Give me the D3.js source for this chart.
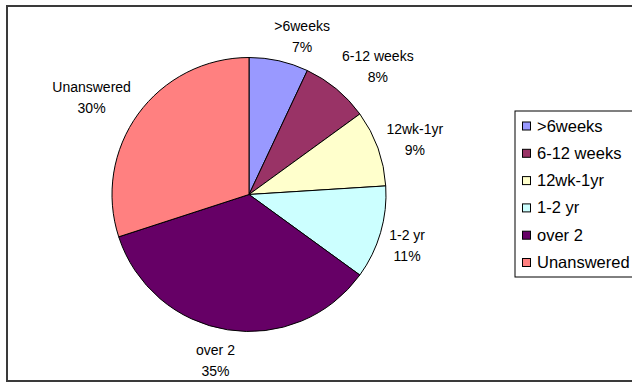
<!DOCTYPE html>
<html>
<head>
<meta charset="utf-8">
<style>
  body { margin: 0; background: #fff; }
  svg { display: block; font-family: "Liberation Sans", Arial, sans-serif; }
</style>
</head>
<body>
<div id="chart"></div>
<script src="https://d3js.org/d3.v7.min.js"></script>
<script>
  // data
  let categories = [">6weeks", "6-12 weeks", "12wk-1yr", "1-2 yr", "over 2", "Unanswered"];
  let shares = [7, 8, 9, 11, 35, 30];
  let colours = ["#9999ff", "#993366", "#ffffcc", "#ccffff", "#660066", "#ff8080"];

  let w = 632, h = 383;
  let cx = 249, cy = 194.5, r = 137;

  let svg = d3.select("#chart").append("svg")
      .attr("width", w)
      .attr("height", h);

  // outer chart frame (right side runs off the page)
  svg.append("rect")
      .attr("x", 7).attr("y", 6)
      .attr("width", 650).attr("height", 375)
      .attr("fill", "none")
      .attr("stroke", "#3a3a3a")
      .attr("stroke-width", 2);

  let data = categories.map(function(c, i) { return { name: c, value: shares[i] }; });
  let total = d3.sum(shares);

  let pie = d3.pie().sort(null).value(function(d) { return d.value; });
  let arc = d3.arc().innerRadius(0).outerRadius(r);
  let colour = d3.scaleOrdinal().domain(categories).range(colours);

  let slices = pie(data);

  let plot = svg.append("g").attr("transform", "translate(" + cx + "," + cy + ")");

  plot.selectAll("path")
      .data(slices)
      .enter().append("path")
        .attr("d", arc)
        .attr("fill", function(d) { return colour(d.data.name); })
        .attr("stroke", "#000")
        .attr("stroke-width", 1);

  // labels outside the pie, pushed away from the edge like excel does
  let fmt = d3.format(".0%");
  let label = plot.selectAll("g.lbl")
      .data(slices)
      .enter().append("g")
        .attr("class", "lbl");

  let txt = label.append("text")
      .attr("text-anchor", "middle")
      .attr("font-size", 14)
      .attr("fill", "#000");
  txt.append("tspan").attr("x", 0).attr("y", -5.5).text(function(d) { return d.data.name; });
  txt.append("tspan").attr("x", 0).attr("y", 15.5).text(function(d) { return fmt(d.data.value / total); });

  let clamp = function(v) { return Math.max(-1, Math.min(1, v)); };
  label.attr("transform", function(d) {
    let a = (d.startAngle + d.endAngle) / 2;
    let ux = Math.sin(a), uy = -Math.cos(a);
    let px = (r + 9) * ux, py = (r + 9) * uy;
    let tw = 0;
    d3.select(this).selectAll("tspan").each(function() { tw = Math.max(tw, this.getComputedTextLength()); });
    let x = px + clamp(3.5 * ux) * tw / 2;
    let y = py + clamp(1.3 * uy) * 19 + 3;
    return "translate(" + x + "," + y + ")";
  });

  // legend
  let legend = svg.append("g");
  legend.append("rect")
      .attr("x", 515).attr("y", 111)
      .attr("width", 140).attr("height", 166)
      .attr("fill", "#fff")
      .attr("stroke", "#000")
      .attr("stroke-width", 1);

  let ly = d3.scalePoint().domain(categories).range([126, 262.5]);

  let item = legend.selectAll("g.item")
      .data(categories)
      .enter().append("g")
        .attr("class", "item")
        .attr("transform", function(d) { return "translate(0," + ly(d) + ")"; });

  item.append("rect")
      .attr("x", 522.5).attr("y", -4)
      .attr("width", 8).attr("height", 8)
      .attr("fill", function(d) { return colour(d); })
      .attr("stroke", "#000")
      .attr("stroke-width", 1);

  item.append("text")
      .attr("x", 537).attr("y", 5.5)
      .attr("font-size", 16.5)
      .attr("fill", "#000")
      .text(function(d) { return d; });
</script>
</body>
</html>
